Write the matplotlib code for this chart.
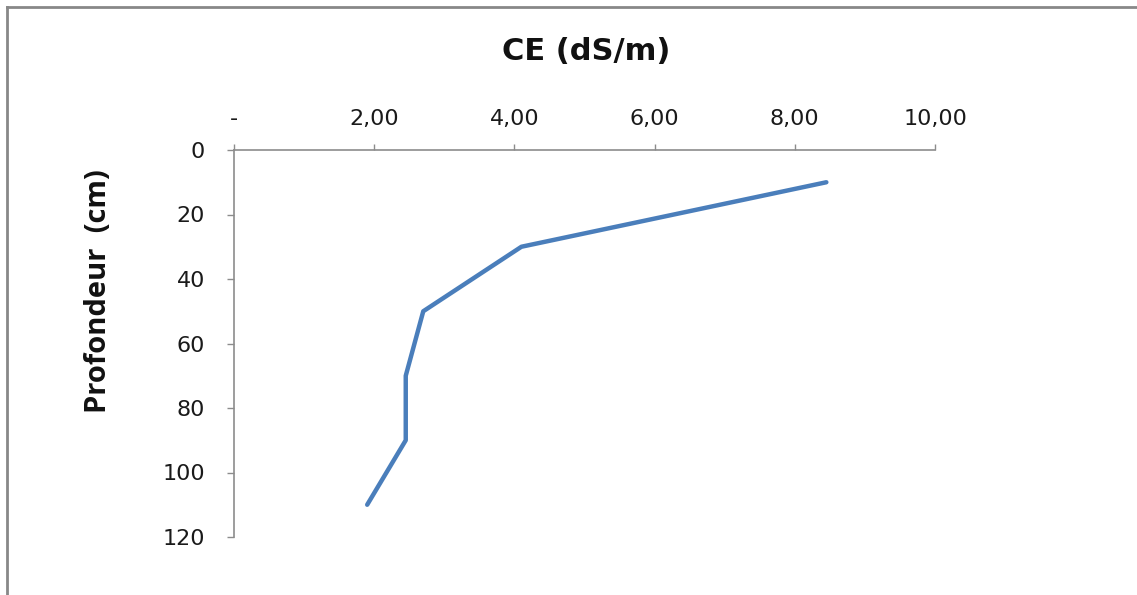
import matplotlib.pyplot as plt
from matplotlib.lines import Line2D
from matplotlib.ticker import FuncFormatter

# CE (dS/m) vs depth (cm)
ce = [8.45, 4.10, 2.70, 2.45, 2.45, 1.90]
depth = [10, 30, 50, 70, 90, 110]
x_ticks = [0, 2, 4, 6, 8, 10]
y_ticks = [0, 20, 40, 60, 80, 100, 120]

plt.rcParams['font.family'] = ['DejaVu Sans']

fig = plt.figure(figsize=(11.37, 5.95), dpi=100)
ax = fig.add_axes([234/1137, 1-537/595, (935-234)/1137, (537-150)/595])

ax.plot(ce, depth, color='#4A7EBB', lw=3.2, solid_capstyle='round', solid_joinstyle='round')

ax.set_xlim(0, 10)
ax.set_ylim(120, 0)
ax.set_xticks(x_ticks)
ax.set_yticks(y_ticks)

def fr_fmt(v, pos):
    if v == 0:
        return '-'
    return ('%.2f' % v).replace('.', ',')

ax.xaxis.set_major_formatter(FuncFormatter(fr_fmt))
ax.xaxis.tick_top()

for side in ['right', 'bottom']:
    ax.spines[side].set_visible(False)
for side in ['top', 'left']:
    ax.spines[side].set_color('#8c8c8c')
    ax.spines[side].set_linewidth(1.2)

ax.tick_params(axis='x', direction='out', length=4, width=1, color='#8c8c8c',
               pad=11, labelsize=16, labelcolor='#1a1a1a')
ax.tick_params(axis='y', direction='out', length=5, width=1, color='#8c8c8c',
               pad=16, labelsize=16, labelcolor='#1a1a1a')

fig.text(586/1137, 1-51/595, 'CE (dS/m)', ha='center', va='center',
         fontsize=22, fontweight='bold', color='#111111')
fig.text(99/1137, 1-291/595, 'Profondeur  (cm)', ha='center', va='center',
         rotation=90, fontsize=21, fontweight='bold', color='#111111',
         family=['Open Sans', 'DejaVu Sans'])

# outer chart border (top and left visible)
bx = 7/1137
by = 1 - 7/595
fig.add_artist(Line2D([bx, bx], [0, by], transform=fig.transFigure, color='#888888', lw=2))
fig.add_artist(Line2D([bx, 1], [by, by], transform=fig.transFigure, color='#888888', lw=2))

fig.savefig('out.png', dpi=100)
